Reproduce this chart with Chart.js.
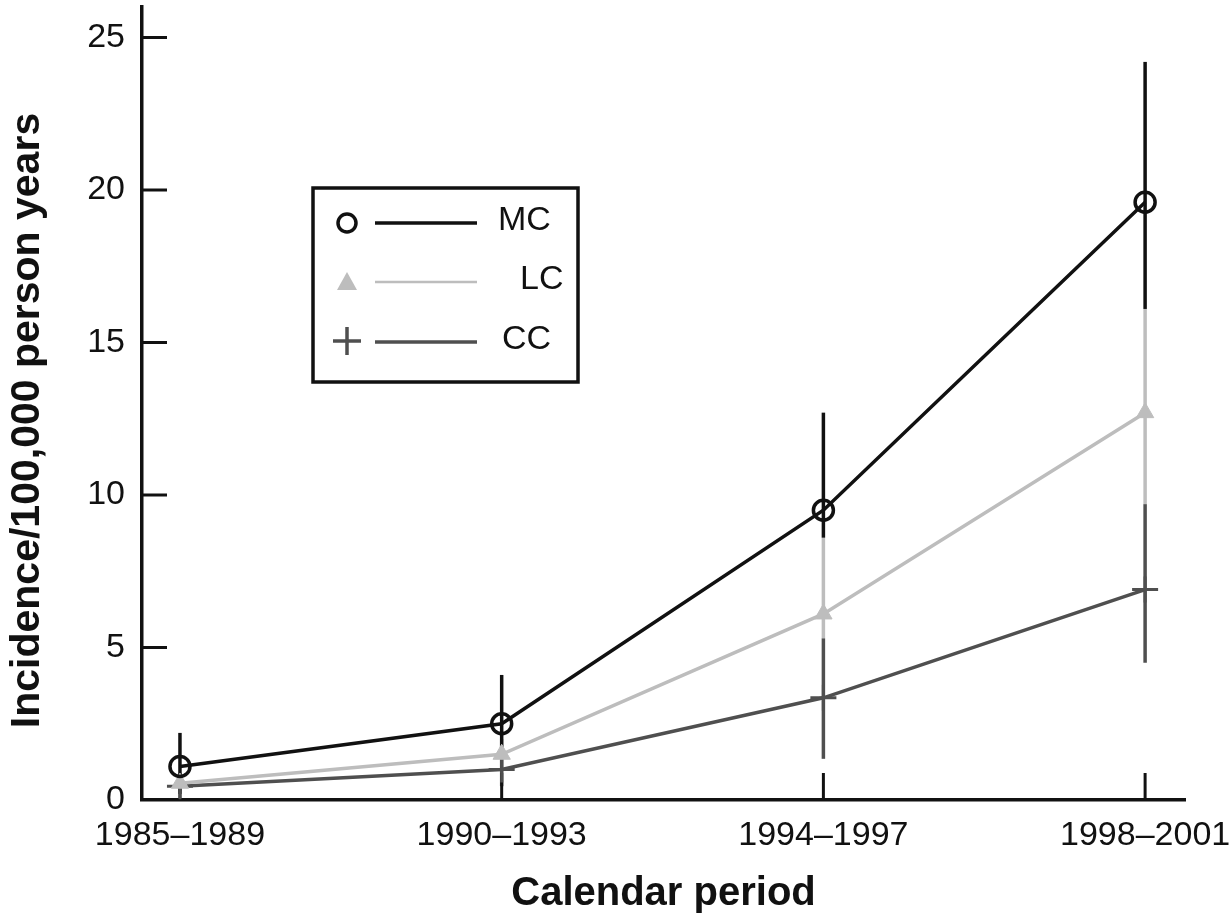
<!DOCTYPE html>
<html>
<head>
<meta charset="utf-8">
<script src="https://cdn.jsdelivr.net/npm/chart.js@4.4.1/dist/chart.umd.min.js"></script>
<style>
  body { margin: 0; background: #fff; }
</style>
</head>
<body>
<canvas id="c" width="1231" height="922"></canvas>
<script>
const periods = ['1985–1989', '1990–1993', '1994–1997', '1998–2001'];
const yTicks = [0, 5, 10, 15, 20, 25];

// incidence per 100,000 person years, with the visible CI ends
const mcValues = [1.1, 2.5, 9.5, 19.6];
const mcLower  = [0.6, 1.6, 8.6, 16.1];
const mcUpper  = [2.2, 4.1, 12.7, 24.2];

const lcValues = [0.55, 1.5, 6.1, 12.7];
const lcLower  = [0.3, 1.0, 5.3, 9.7];
const lcUpper  = [0.9, 2.0, 8.6, 16.1];

const ccValues = [0.45, 1.0, 3.35, 6.9];
const ccLower  = [0.2, 0.45, 1.35, 4.5];
const ccUpper  = [0.8, 1.6, 5.3, 9.7];

const INK = '#111';
const FONT = "'Liberation Sans', Arial, Helvetica, sans-serif";
Chart.defaults.font.family = FONT;
Chart.defaults.color = INK;

const toPoints = vals => vals.map((v, i) => ({ x: i, y: v }));

const datasets = [
  { label: 'MC', data: toPoints(mcValues), lower: mcLower, upper: mcUpper,
    borderColor: INK, borderWidth: 3.5, pointStyle: 'circle', pointRadius: 10,
    pointBorderWidth: 3.5, pointBorderColor: INK, pointBackgroundColor: 'rgba(0,0,0,0)' },
  { label: 'LC', data: toPoints(lcValues), lower: lcLower, upper: lcUpper,
    borderColor: '#bdbdbd', borderWidth: 3.5, pointStyle: 'triangle', pointRadius: 10,
    pointBorderWidth: 1, pointBorderColor: '#bdbdbd', pointBackgroundColor: '#bdbdbd' },
  { label: 'CC', data: toPoints(ccValues), lower: ccLower, upper: ccUpper,
    borderColor: '#4f4f4f', borderWidth: 3.5, pointStyle: 'cross', pointRadius: 13,
    pointBorderWidth: 3, pointBorderColor: '#4f4f4f', pointBackgroundColor: '#4f4f4f' }
];

// vertical CI bars; LC underneath, then CC, MC on top
const errorBars = {
  id: 'errorBars',
  beforeDatasetsDraw(chart) {
    const { ctx, scales: { x, y } } = chart;
    ctx.save();
    ctx.lineWidth = 3.5;
    [1, 2, 0].forEach(di => {
      const ds = chart.data.datasets[di];
      ctx.strokeStyle = ds.borderColor;
      ds.lower.forEach((lo, i) => {
        const px = x.getPixelForValue(i);
        ctx.beginPath();
        ctx.moveTo(px, y.getPixelForValue(lo));
        ctx.lineTo(px, y.getPixelForValue(ds.upper[i]));
        ctx.stroke();
      });
    });
    ctx.restore();
  }
};

// tick marks point into the plot, so draw them by hand
const innerTicks = {
  id: 'innerTicks',
  beforeDatasetsDraw(chart) {
    const { ctx, chartArea, scales: { x, y } } = chart;
    ctx.save();
    ctx.strokeStyle = INK;
    ctx.lineWidth = 3;
    x.ticks.forEach(t => {
      const px = x.getPixelForValue(t.value);
      ctx.beginPath();
      ctx.moveTo(px, chartArea.bottom);
      ctx.lineTo(px, chartArea.bottom - 27);
      ctx.stroke();
    });
    y.ticks.forEach(t => {
      if (t.value === 0) return;
      const py = y.getPixelForValue(t.value);
      ctx.beginPath();
      ctx.moveTo(chartArea.left, py);
      ctx.lineTo(chartArea.left + 25, py);
      ctx.stroke();
    });
    ctx.restore();
  }
};

const yTitle = {
  id: 'yTitle',
  afterDraw(chart) {
    const { ctx, chartArea } = chart;
    ctx.save();
    ctx.translate(28, (chartArea.top + chartArea.bottom) / 2 + 17);
    ctx.rotate(-Math.PI / 2);
    ctx.font = `bold 41px ${FONT}`;
    ctx.fillStyle = INK;
    ctx.textAlign = 'center';
    ctx.textBaseline = 'middle';
    ctx.fillText('Incidence/100,000 person years', 0, 0);
    ctx.restore();
  }
};

const boxLegend = {
  id: 'boxLegend',
  afterDraw(chart) {
    const { ctx } = chart;
    const left = 313, top = 188, w = 265, h = 194;
    const rows = [223, 282, 342];
    const textX = [498, 520, 502];
    ctx.save();
    ctx.strokeStyle = INK;
    ctx.lineWidth = 3.5;
    ctx.strokeRect(left, top, w, h);
    ctx.font = `34px ${FONT}`;
    ctx.textBaseline = 'middle';
    chart.data.datasets.forEach((ds, i) => {
      const cy = rows[i], mx = 347;
      ctx.strokeStyle = ds.borderColor;
      ctx.fillStyle = ds.borderColor;
      ctx.lineWidth = i === 1 ? 2.5 : 3.5;
      ctx.beginPath();
      ctx.moveTo(375, cy);
      ctx.lineTo(477, cy);
      ctx.stroke();
      ctx.lineWidth = 3.5;
      ctx.beginPath();
      if (ds.pointStyle === 'circle') {
        ctx.arc(mx, cy, 9, 0, Math.PI * 2);
        ctx.stroke();
      } else if (ds.pointStyle === 'triangle') {
        ctx.moveTo(mx, cy - 10);
        ctx.lineTo(mx + 10, cy + 8);
        ctx.lineTo(mx - 10, cy + 8);
        ctx.closePath();
        ctx.fill();
      } else {
        ctx.moveTo(mx - 14, cy - 1);
        ctx.lineTo(mx + 14, cy - 1);
        ctx.moveTo(mx, cy - 15);
        ctx.lineTo(mx, cy + 13);
        ctx.stroke();
      }
      ctx.fillStyle = INK;
      ctx.fillText(ds.label, textX[i], cy - 2);
    });
    ctx.restore();
  }
};

new Chart(document.getElementById('c'), {
  type: 'line',
  data: { datasets },
  plugins: [errorBars, innerTicks, yTitle, boxLegend],
  options: {
    responsive: false,
    animation: false,
    layout: { autoPadding: false, padding: { top: 7, right: 46, left: 0, bottom: 0 } },
    plugins: { legend: { display: false }, tooltip: { enabled: false } },
    scales: {
      x: {
        type: 'linear', min: -0.118, max: 3.124,
        grid: { display: false, drawTicks: false },
        border: { display: true, color: INK, width: 3.5 },
        afterBuildTicks: s => { s.ticks = periods.map((_, i) => ({ value: i })); },
        afterFit: s => { s.height = 122; s.paddingLeft = 0; s.paddingRight = 0; },
        ticks: { callback: v => periods[v], color: INK, font: { size: 34 },
                 padding: 15, maxRotation: 0, autoSkip: false },
        title: { display: true, text: 'Calendar period', color: INK,
                 font: { size: 40, weight: 'bold' }, padding: { top: 0, bottom: 4 } }
      },
      y: {
        min: 0, max: 26,
        grid: { display: false, drawTicks: false },
        border: { display: true, color: INK, width: 3.5 },
        afterBuildTicks: s => { s.ticks = yTicks.map(v => ({ value: v })); },
        afterFit: s => { s.width = 142; s.paddingTop = 0; s.paddingBottom = 0; },
        ticks: { color: INK, font: { size: 34 }, padding: 17 }
      }
    }
  }
});
</script>
</body>
</html>
